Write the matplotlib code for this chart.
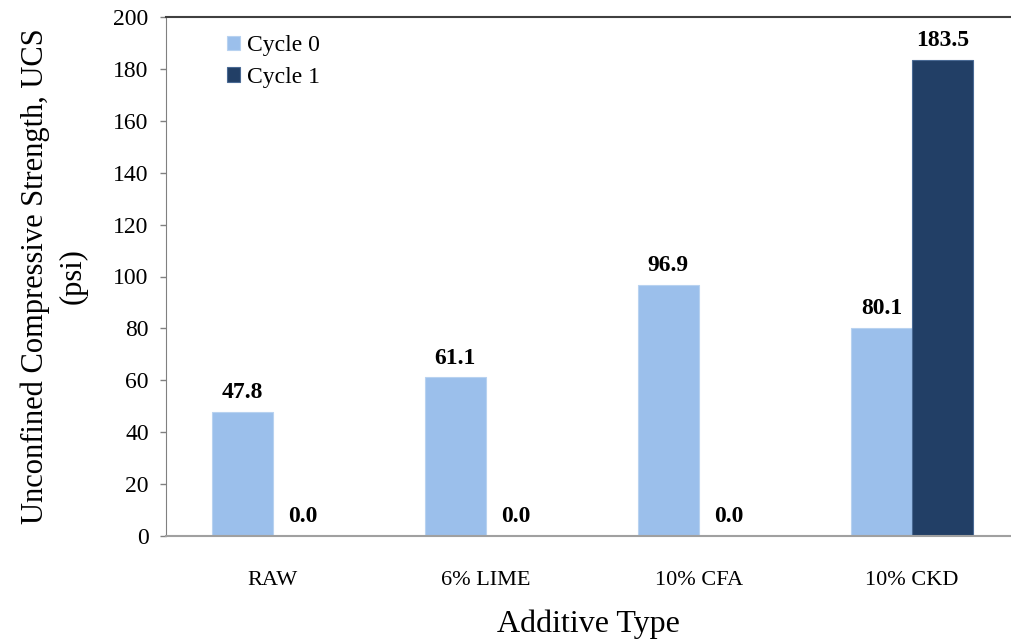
import matplotlib
matplotlib.use("Agg")
import matplotlib.pyplot as plt
import numpy as np

categories = ["RAW", "6% LIME", "10% CFA", "10% CKD"]
cycle0 = [47.8, 61.1, 96.9, 80.1]
cycle1 = [0.0, 0.0, 0.0, 183.5]
series_names = ["Cycle 0", "Cycle 1"]
yticks = [0, 20, 40, 60, 80, 100, 120, 140, 160, 180, 200]

plt.rcParams['font.family'] = ['Liberation Serif', 'DejaVu Serif']

fig = plt.figure(figsize=(10.11, 6.44), dpi=100)
ax = fig.add_axes([166/1011, 1 - 536/644, 1 - 166/1011, (536 - 17)/644])

x = np.arange(len(categories))
w = 0.286
c0 = "#9BBFEB"
c1 = "#223F66"
b0 = ax.bar(x - w/2, cycle0, w, color=c0, edgecolor="#B8D2F0", linewidth=0.8, label=series_names[0])
b1 = ax.bar(x + w/2, cycle1, w, color=c1, edgecolor="#4A6A94", linewidth=0.8, label=series_names[1])

for bars, vals in ((b0, cycle0), (b1, cycle1)):
    for rect, v in zip(bars, vals):
        ax.annotate(f"{v:.1f}", (rect.get_x() + rect.get_width()/2, v),
                    xytext=(0, 10), textcoords="offset points",
                    ha="center", va="baseline", fontsize=17, fontweight="bold")

ax.set_xlim(-0.5, 3.465)
ax.set_ylim(0, 200)
ax.set_yticks(yticks)
ax.set_xticks(x)
ax.set_xticklabels(categories, fontsize=16)
ax.tick_params(axis='x', length=0, pad=25)
ax.tick_params(axis='y', labelsize=17, length=4.5, width=1, color="#808080", pad=8)

ax.spines['right'].set_visible(False)
ax.spines['top'].set_color("#404040")
ax.spines['top'].set_linewidth(1.5)
ax.spines['left'].set_color("#808080")
ax.spines['bottom'].set_color("#a0a0a0")
ax.spines['bottom'].set_linewidth(1.5)

ax.set_ylabel("Unconfined Compressive Strength, UCS\n(psi)", fontsize=22, linespacing=1.4)
ax.yaxis.set_label_coords(-78/845, 0.5)
ax.set_xlabel("Additive Type", fontsize=23, labelpad=14)

leg = ax.legend(loc="upper left", bbox_to_anchor=(0.047, 1.006), frameon=False,
                fontsize=17, handlelength=0.55, handleheight=0.55, handletextpad=0.28,
                labelspacing=0.45)

fig.savefig("out.png", dpi=100)
